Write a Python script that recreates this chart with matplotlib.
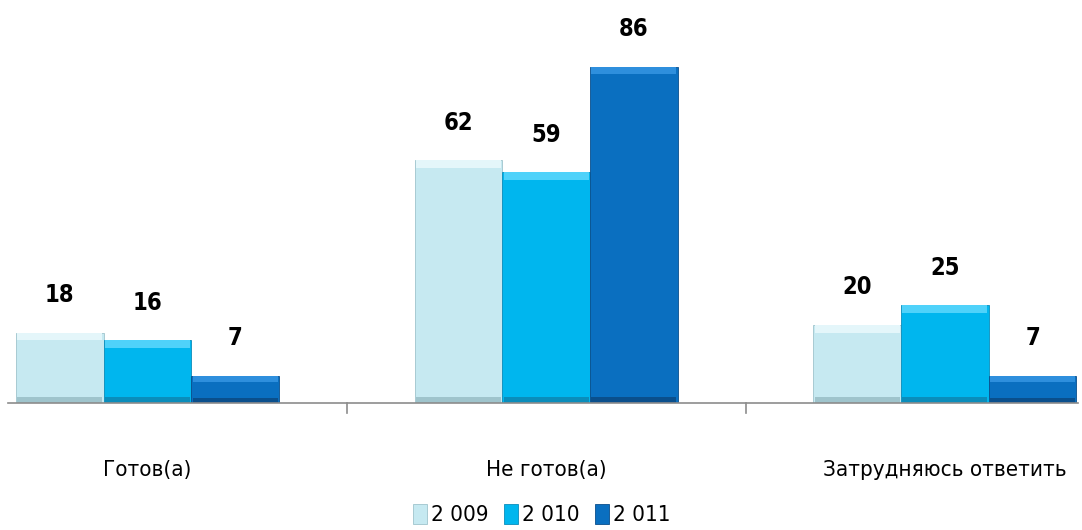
import matplotlib.pyplot as plt
import numpy as np

# Данные опроса
categories = ["Готов(а)", "Не готов(а)", "Затрудняюсь ответить"]
years = ["2 009", "2 010", "2 011"]
v2009 = [18, 62, 20]
v2010 = [16, 59, 25]
v2011 = [7, 86, 7]
series = [v2009, v2010, v2011]

colors = ["#C6E9F1", "#00B6EE", "#0A6FC0"]
tops = ["#E4F6FA", "#4FD2FA", "#2E8FDD"]
bottoms = ["#9FC4CC", "#0A8DBB", "#0A4F8C"]

plt.rcParams['font.family'] = ['DejaVu Sans']
plt.rcParams['font.stretch'] = 'condensed'

fig = plt.figure(figsize=(10.82, 5.30), dpi=100)
ax = fig.add_axes([0, 127 / 530, 1, 403 / 530])

x = np.arange(len(categories))
w = 0.22
offsets = [-w, 0, w]

for vals, off, c, ct, cb, yr in zip(series, offsets, colors, tops, bottoms, years):
    ax.bar(x + off, vals, w, color=c, edgecolor=cb, linewidth=0.6, label=yr, zorder=2)
    # небольшой эффект объема: светлая полоса сверху, тёмная снизу
    for xi, v in zip(x + off, vals):
        h = min(2.0, v * 0.25)
        ax.bar(xi, h, w * 0.97, bottom=v - h, color=ct, linewidth=0, zorder=3)
        ax.bar(xi, h * 0.8, w * 0.97, bottom=0, color=cb, linewidth=0, zorder=3)
    for xi, v in zip(x + off, vals):
        ax.annotate(str(v), (xi, v), xytext=(0, 27), textcoords="offset points",
                    ha="center", va="center", fontsize=17, fontweight="bold",
                    fontstretch="condensed")

ax.set_xlim(-0.37, 2.344)
ax.set_ylim(0, 103)
ax.axis("off")

# ось X с делениями
ax.plot([-0.35, 2.335], [0, 0], color="#8C8C8C", lw=1.2, zorder=4, clip_on=False)
for t in [0.5, 1.5]:
    ax.plot([t, t], [0, -2.6], color="#8C8C8C", lw=1.2, clip_on=False)

for xi, cat in zip(x, categories):
    ax.text(xi, -17, cat, ha="center", va="center", fontsize=16, fontstretch="condensed")

ax.legend(loc="center", bbox_to_anchor=(542 / 1082, -28.5 / 103), ncol=3,
          frameon=False, handlelength=0.6, handleheight=1.0,
          handletextpad=0.2, columnspacing=0.7,
          prop={"size": 16, "stretch": "condensed"})

fig.savefig("out.png", dpi=100)
